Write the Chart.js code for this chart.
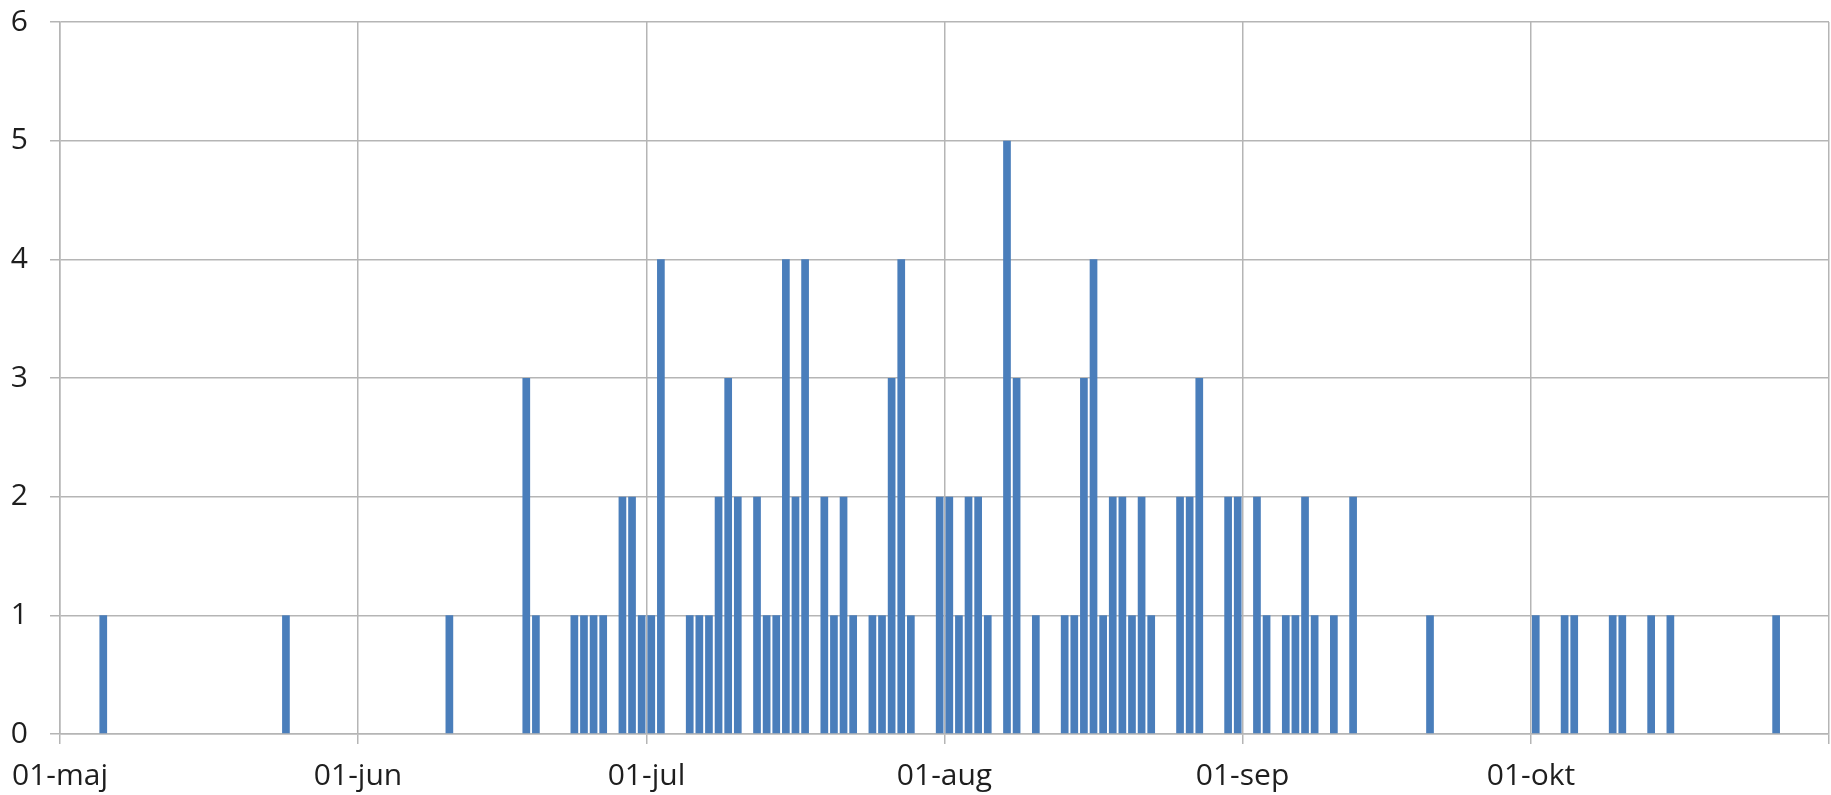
<!DOCTYPE html>
<html>
<head>
<meta charset="utf-8">
<script src="https://cdn.jsdelivr.net/npm/chart.js@4/dist/chart.umd.min.js"></script>
<style>
  html, body { margin: 0; padding: 0; background: #fff; }
  #wrap { width: 1831px; height: 795px; }
</style>
</head>
<body>
<div id="wrap"><canvas id="chart" width="1831" height="795"></canvas></div>
<script>
// Datum (mm-dd) och antal per dag
const dates = [
  '05-05', '05-24', '06-10', '06-18', '06-19', '06-23', '06-24', '06-25', '06-26', '06-28', '06-29', '06-30',
  '07-01', '07-02', '07-05', '07-06', '07-07', '07-08', '07-09', '07-10', '07-12', '07-13', '07-14', '07-15',
  '07-16', '07-17', '07-19', '07-20', '07-21', '07-22', '07-24', '07-25', '07-26', '07-27', '07-28', '07-31',
  '08-01', '08-02', '08-03', '08-04', '08-05', '08-07', '08-08', '08-10', '08-13', '08-14', '08-15', '08-16',
  '08-17', '08-18', '08-19', '08-20', '08-21', '08-22', '08-25', '08-26', '08-27', '08-30', '08-31',
  '09-02', '09-03', '09-05', '09-06', '09-07', '09-08', '09-10', '09-12', '09-20',
  '10-01', '10-04', '10-05', '10-09', '10-10', '10-13', '10-15', '10-26'
];
const counts = [
  1, 1, 1, 3, 1, 1, 1, 1, 1, 2, 2, 1,
  1, 4, 1, 1, 1, 2, 3, 2, 2, 1, 1, 4,
  2, 4, 2, 1, 2, 1, 1, 1, 3, 4, 1, 2,
  2, 1, 2, 2, 1, 5, 3, 1, 1, 1, 3, 4,
  1, 2, 2, 1, 2, 1, 2, 2, 3, 2, 2,
  2, 1, 1, 1, 2, 1, 1, 2, 1,
  1, 1, 1, 1, 1, 1, 1, 1
];

// Månadsstart (dag från 1 maj) och etiketter för x-axeln
const monthStarts = [0, 31, 61, 92, 123, 153, 184];
const monthLabels = ['01-maj', '01-jun', '01-jul', '01-aug', '01-sep', '01-okt', ''];

// Omvandla mm-dd till dagnummer från 1 maj
function dayIndex(d) {
  const [m, day] = d.split('-').map(Number);
  return monthStarts[m - 5] + day - 1;
}

const points = dates.map((d, i) => ({ x: dayIndex(d) + 0.5, y: counts[i] }));

const gridColor = '#b5b5b5';
const font = { family: 'Open Sans', size: 30 };

new Chart(document.getElementById('chart'), {
  type: 'bar',
  data: {
    datasets: [{
      data: points,
      backgroundColor: '#4a7ebb',
      borderWidth: 0,
      categoryPercentage: 1,
      barPercentage: 0.8,
    }],
  },
  options: {
    responsive: false,
    animation: false,
    layout: { padding: { top: 22, right: 2, left: 0, bottom: 0 } },
    plugins: { legend: { display: false }, tooltip: { enabled: false } },
    scales: {
      x: {
        type: 'linear',
        min: 0,
        max: 184,
        offset: false,
        afterBuildTicks: (scale) => {
          scale.ticks = monthStarts.map(v => ({ value: v }));
        },
        afterFit: (scale) => {
          scale.height = 61;
          scale.paddingLeft = 0;
          scale.paddingRight = 0;
        },
        grid: { color: gridColor, lineWidth: 1.5, tickLength: 10, offset: false },
        border: { color: gridColor, width: 1.5 },
        ticks: {
          autoSkip: false,
          maxRotation: 0,
          padding: 14,
          color: '#1e1e1e',
          font: font,
          callback: (v, i) => monthLabels[i],
        },
      },
      y: {
        min: 0,
        max: 6,
        afterFit: (scale) => {
          scale.width = 60;
          scale.paddingTop = 0;
          scale.paddingBottom = 0;
        },
        grid: { color: gridColor, lineWidth: 1.5, tickLength: 10 },
        border: { color: gridColor, width: 1.5 },
        ticks: { stepSize: 1, padding: 22, color: '#1e1e1e', font: font },
      },
    },
  },
});
</script>
</body>
</html>
